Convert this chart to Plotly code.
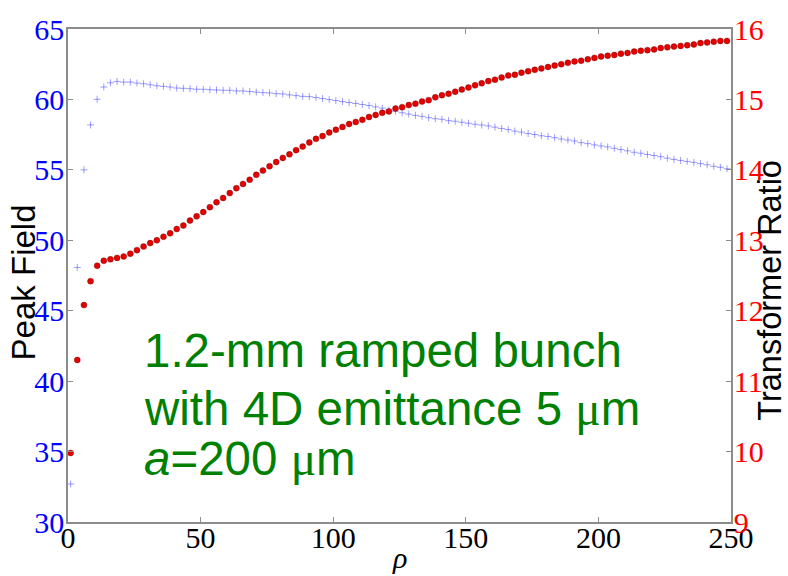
import plotly.graph_objects as go

rho = [1.0, 3.5, 6.0, 8.5, 11.0, 13.5, 16.0, 18.5, 21.0, 23.5,
       26.0, 28.5, 31.0, 33.5, 36.0, 38.5, 41.0, 43.5, 46.0, 48.5,
       51.0, 53.5, 56.0, 58.5, 61.0, 63.5, 66.0, 68.5, 71.0, 73.5,
       76.0, 78.5, 81.0, 83.5, 86.0, 88.5, 91.0, 93.5, 96.0, 98.5,
       101.0, 103.5, 106.0, 108.5, 111.0, 113.5, 116.0, 118.5, 121.0, 123.5,
       126.0, 128.5, 131.0, 133.5, 136.0, 138.5, 141.0, 143.5, 146.0, 148.5,
       151.0, 153.5, 156.0, 158.5, 161.0, 163.5, 166.0, 168.5, 171.0, 173.5,
       176.0, 178.5, 181.0, 183.5, 186.0, 188.5, 191.0, 193.5, 196.0, 198.5,
       201.0, 203.5, 206.0, 208.5, 211.0, 213.5, 216.0, 218.5, 221.0, 223.5,
       226.0, 228.5, 231.0, 233.5, 236.0, 238.5, 241.0, 243.5, 246.0, 248.5]

peak_field = [32.7, 48.07, 55.0, 58.19, 60.01, 60.88, 61.18, 61.28, 61.23, 61.23,
              61.16, 61.11, 61.04, 60.97, 60.93, 60.88, 60.81, 60.79, 60.76, 60.72,
              60.72, 60.69, 60.67, 60.65, 60.65, 60.60, 60.60, 60.56, 60.52, 60.48,
              60.46, 60.41, 60.39, 60.32, 60.27, 60.22, 60.20, 60.13, 60.06, 59.99,
              59.92, 59.85, 59.78, 59.71, 59.64, 59.57, 59.47, 59.38, 59.26, 59.17,
              59.05, 58.96, 58.87, 58.80, 58.70, 58.63, 58.59, 58.49, 58.45, 58.38,
              58.31, 58.24, 58.18, 58.12, 58.03, 57.94, 57.86, 57.75, 57.68, 57.58,
              57.51, 57.42, 57.37, 57.28, 57.19, 57.12, 57.05, 56.93, 56.86, 56.77,
              56.70, 56.63, 56.53, 56.44, 56.35, 56.25, 56.18, 56.09, 56.02, 55.93,
              55.83, 55.74, 55.67, 55.60, 55.53, 55.44, 55.36, 55.25, 55.18, 55.08]

transformer_ratio = [9.98, 11.30, 12.08, 12.42, 12.64, 12.71, 12.73, 12.75, 12.77, 12.81,
                     12.86, 12.91, 12.96, 13.00, 13.05, 13.10, 13.16, 13.21, 13.28, 13.34,
                     13.40, 13.47, 13.54, 13.60, 13.67, 13.74, 13.80, 13.86, 13.93, 13.99,
                     14.05, 14.11, 14.17, 14.22, 14.28, 14.33, 14.39, 14.44, 14.48, 14.53,
                     14.57, 14.61, 14.65, 14.68, 14.71, 14.75, 14.78, 14.81, 14.83, 14.87,
                     14.89, 14.92, 14.94, 14.97, 14.99, 15.03, 15.06, 15.08, 15.11, 15.14,
                     15.17, 15.20, 15.23, 15.26, 15.28, 15.31, 15.34, 15.35, 15.38, 15.40,
                     15.42, 15.44, 15.46, 15.48, 15.50, 15.52, 15.54, 15.55, 15.57, 15.59,
                     15.61, 15.62, 15.63, 15.65, 15.66, 15.68, 15.69, 15.70, 15.71, 15.73,
                     15.74, 15.75, 15.76, 15.77, 15.78, 15.80, 15.81, 15.82, 15.83, 15.83]

x_ticks = [0, 50, 100, 150, 200, 250]
left_ticks = [30, 35, 40, 45, 50, 55, 60, 65]
right_ticks = [9, 10, 11, 12, 13, 14, 15, 16]

SERIF = "Liberation Serif"
SANS = "Liberation Sans, Arial"
AXIS_GRAY = "#8c8c8c"

fig = go.Figure()
fig.add_trace(go.Scatter(
    x=rho, y=peak_field, mode="markers", yaxis="y",
    marker=dict(symbol="cross-thin", size=5,
                line=dict(width=1, color="rgba(40,40,255,0.45)")),
    showlegend=False, hoverinfo="skip"))
fig.add_trace(go.Scatter(
    x=rho, y=transformer_ratio, mode="markers", yaxis="y2",
    marker=dict(symbol="circle", size=6, color="#e60000",
                line=dict(width=0.6, color="rgba(90,0,0,0.6)")),
    showlegend=False, hoverinfo="skip"))

common = dict(showgrid=False, zeroline=False, showline=True, linecolor=AXIS_GRAY,
              linewidth=1.5, ticks="inside", ticklen=5, tickwidth=1,
              tickcolor=AXIS_GRAY)

fig.update_layout(
    width=788, height=576,
    margin=dict(l=68, r=57, t=23, b=54),
    paper_bgcolor="white", plot_bgcolor="white",
    xaxis=dict(range=[0, 250], tickvals=x_ticks,
               ticktext=[str(v) for v in x_ticks], mirror="ticks",
               ticklabelstandoff=-12,
               tickfont=dict(family=SERIF, size=30, color="black"), **common),
    yaxis=dict(range=[30, 65], tickvals=left_ticks,
               ticktext=[str(v) for v in left_ticks], ticklabelstandoff=-4,
               tickfont=dict(family=SERIF, size=30, color="#0000ff"), **common),
    yaxis2=dict(range=[9, 16], tickvals=right_ticks, overlaying="y", side="right",
                ticktext=[str(v) for v in right_ticks], ticklabelstandoff=-5,
                tickfont=dict(family=SERIF, size=30, color="#ff0000"), **common),
)

annos = [
    dict(text="Peak Field", x=-0.0671, y=0.485, textangle=-90,
         font=dict(family=SANS, size=33, color="black")),
    dict(text="Transformer Ratio", x=1.0595, y=0.47, textangle=-90,
         font=dict(family=SANS, size=32.5, color="black")),
    dict(text="<i>ρ</i>", x=0.5, y=-0.034, yanchor="top",
         font=dict(family=SERIF, size=30, color="black")),
    dict(text="1.2-mm ramped bunch", x=0.112, y=0.347, xanchor="left",
         font=dict(family=SANS, size=47.5, color="#008000")),
    dict(text="with 4D emittance 5 <span style=\"font-family:'Liberation Serif'\">μ</span>m",
         x=0.112, y=0.231, xanchor="left",
         font=dict(family=SANS, size=47.5, color="#008000")),
    dict(text="<i>a</i>=200 <span style=\"font-family:'Liberation Serif'\">μ</span>m",
         x=0.112, y=0.129, xanchor="left",
         font=dict(family=SANS, size=47.5, color="#008000")),
]
for a in annos:
    a.setdefault("xanchor", "center")
    a.setdefault("yanchor", "middle")
    fig.add_annotation(xref="paper", yref="paper", showarrow=False, **a)

fig.write_html("out.html")
